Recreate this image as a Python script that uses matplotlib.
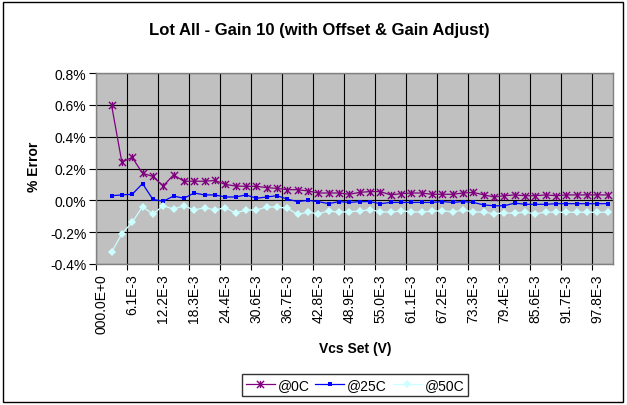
import numpy as np
import matplotlib
matplotlib.use("Agg")
import matplotlib.pyplot as plt
from matplotlib.path import Path
from matplotlib.patches import Rectangle

plt.rcParams['font.family'] = ['Liberation Sans', 'DejaVu Sans']

# ---- data (values in %) ----
x_tick_labels = ["000.0E+0", "6.1E-3", "12.2E-3", "18.3E-3", "24.4E-3", "30.6E-3",
                 "36.7E-3", "42.8E-3", "48.9E-3", "55.0E-3", "61.1E-3", "67.2E-3",
                 "73.3E-3", "79.4E-3", "85.6E-3", "91.7E-3", "97.8E-3"]
n_categories = 50

err_0c = [np.nan, 0.60, 0.24, 0.27, 0.17, 0.15, 0.09, 0.16, 0.12, 0.12, 0.12,
          0.125, 0.10, 0.09, 0.088, 0.088, 0.08, 0.075, 0.067, 0.067, 0.059,
          0.046, 0.046, 0.046, 0.038, 0.050, 0.055, 0.055, 0.034, 0.042, 0.046,
          0.046, 0.038, 0.038, 0.038, 0.046, 0.050, 0.034, 0.021, 0.029, 0.034,
          0.029, 0.029, 0.034, 0.029, 0.034, 0.034, 0.034, 0.034, 0.034]
err_25c = [np.nan, 0.029, 0.034, 0.038, 0.105, 0.006, -0.006, 0.027, 0.013, 0.046, 0.034,
           0.034, 0.021, 0.021, 0.034, 0.013, 0.021, 0.029, 0.008, -0.008, 0.0,
           -0.008, -0.021, -0.008, -0.013, -0.008, -0.008, -0.021, -0.013, -0.013, -0.013,
           -0.013, -0.013, -0.008, -0.013, -0.008, -0.013, -0.029, -0.034, -0.034, -0.017,
           -0.025, -0.025, -0.025, -0.021, -0.021, -0.021, -0.021, -0.021, -0.021]
err_50c = [np.nan, -0.327, -0.21, -0.138, -0.04, -0.086, -0.034, -0.055, -0.034, -0.061, -0.046,
           -0.061, -0.046, -0.08, -0.061, -0.061, -0.042, -0.042, -0.05, -0.088, -0.075,
           -0.084, -0.067, -0.075, -0.071, -0.067, -0.059, -0.071, -0.075, -0.067, -0.071,
           -0.075, -0.067, -0.067, -0.071, -0.063, -0.071, -0.075, -0.084, -0.080, -0.080,
           -0.075, -0.084, -0.075, -0.075, -0.075, -0.075, -0.075, -0.075, -0.075]
series_names = ["@0C", "@25C", "@50C"]
y_ticks = [-0.4, -0.2, 0.0, 0.2, 0.4, 0.6, 0.8]

W, H = 627, 406
fig = plt.figure(figsize=(W / 100, H / 100), dpi=100)
fig.patch.set_facecolor('white')

# outer chart border
fig.add_artist(Rectangle((3 / W, 3 / H), 620 / W, 400 / H, transform=fig.transFigure,
                         fill=False, edgecolor='black', linewidth=1.0))

ax = fig.add_axes([96 / W, (H - 265) / H, (613 - 96) / W, (265 - 74) / H])
ax.set_facecolor('#C0C0C0')
for s in ax.spines.values():
    s.set_color('#808080')
    s.set_linewidth(1.0)

xs = np.arange(n_categories)

star = Path([(0, -1), (0, 1), (-1, -1), (1, 1), (-1, 1), (1, -1)],
            [Path.MOVETO, Path.LINETO, Path.MOVETO, Path.LINETO, Path.MOVETO, Path.LINETO])

ax.plot(xs, err_0c, color='#800080', lw=0.9, marker=star, markersize=5.2,
        markeredgewidth=1.0, markeredgecolor='#800080', label=series_names[0], zorder=3)
ax.plot(xs, err_25c, color='#0000FF', lw=0.9, marker='s', markersize=3.2,
        markeredgewidth=0, markerfacecolor='#0000FF', label=series_names[1], zorder=3)
ax.plot(xs, err_50c, color='#CCFFFF', lw=0.9, marker='D', markersize=4.2,
        markeredgewidth=0, markerfacecolor='#CCFFFF', label=series_names[2], zorder=3)

ax.set_xlim(-0.5, n_categories - 0.5)
ax.set_ylim(-0.4, 0.8)
ax.set_yticks(y_ticks)
ax.set_yticklabels([f"{v:.1f}%" for v in y_ticks], fontsize=10)

# major ticks at category boundaries (gridlines), labels at category centers
major = np.arange(-0.5, n_categories - 0.5, 3)
ax.set_xticks(major)
ax.set_xticklabels([])
label_pos = np.arange(0, n_categories, 3)[:len(x_tick_labels)]
ax.set_xticks(label_pos, minor=True)
ax.set_xticklabels(x_tick_labels, minor=True, rotation=90, fontsize=10)
ax.tick_params(axis='x', which='minor', length=0, pad=7)
ax.tick_params(axis='x', which='major', length=4, width=0.8, color='black', direction='out')
ax.tick_params(axis='y', length=5, width=0.8, color='black', direction='out', pad=2)

ax.grid(True, which='major', color='black', linewidth=0.8)
ax.set_axisbelow(True)

fig.text(319 / W, 1 - 30 / H, "Lot All - Gain 10 (with Offset & Gain Adjust)",
         ha='center', va='center', fontsize=12, fontweight='bold')
fig.text(34 / W, 1 - 167 / H, "% Error", ha='center', va='center', rotation=90,
         fontsize=10, fontweight='bold')
fig.text(355 / W, 1 - 349 / H, "Vcs Set (V)", ha='center', va='center',
         fontsize=10, fontweight='bold')

leg = fig.legend(loc='center', bbox_to_anchor=(355 / W, 1 - 386 / H), ncol=3,
                 frameon=True, fancybox=False, fontsize=10, handlelength=2.1,
                 columnspacing=0.4, handletextpad=0.2, borderpad=0.3, borderaxespad=0)
leg.get_frame().set_edgecolor('black')
leg.get_frame().set_linewidth(1.0)

fig.savefig("out.png", dpi=100)
